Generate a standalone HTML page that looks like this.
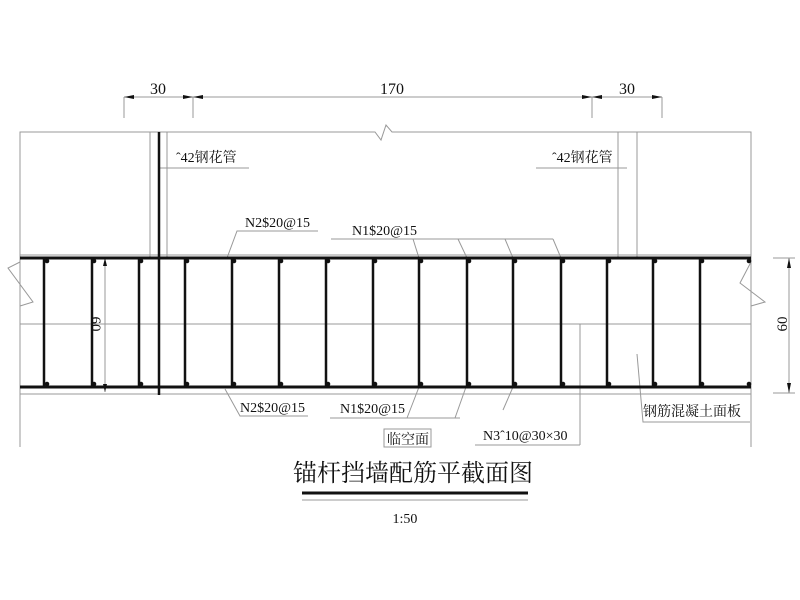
<!DOCTYPE html>
<html><head><meta charset="utf-8"><style>
html,body{margin:0;padding:0;background:#fff;}
svg{display:block;}
text{font-family:"Liberation Serif","Noto Serif CJK SC","Noto Sans CJK SC",serif;fill:#111;}
</style></head><body>
<svg width="800" height="600" viewBox="0 0 800 600" xmlns="http://www.w3.org/2000/svg">
<g stroke="#999" stroke-width="1" fill="none">
<!-- outer -->
<polyline points="20,447 20,132 375,132 381,140 386,125 392,132 751,132 751,447"/>
<line x1="20" y1="394" x2="751" y2="394"/>
<line x1="20" y1="324" x2="751" y2="324"/>
<line x1="20" y1="255" x2="751" y2="255"/>
<line x1="150" y1="132" x2="150" y2="258"/>
<line x1="167" y1="132" x2="167" y2="258"/>
<line x1="618" y1="132" x2="618" y2="258"/>
<line x1="637" y1="132" x2="637" y2="258"/>
<!-- zigzags -->
<polyline points="20,262 8,268 33,302 20,306"/>
<polyline points="751,262 740,283 765,302 751,306"/>
<!-- dims top -->
<line x1="124" y1="97" x2="662" y2="97"/>
<line x1="124" y1="97" x2="124" y2="118"/>
<line x1="193" y1="97" x2="193" y2="118"/>
<line x1="592" y1="97" x2="592" y2="118"/>
<line x1="662" y1="97" x2="662" y2="118"/>
<!-- dims left/right -->
<line x1="105" y1="258" x2="105" y2="392"/>
<line x1="789" y1="258" x2="789" y2="393"/>
<line x1="773" y1="258" x2="795" y2="258"/>
<line x1="773" y1="393" x2="795" y2="393"/>
<!-- leaders -->
<line x1="160" y1="168" x2="249" y2="168"/>
<line x1="536" y1="168" x2="627" y2="168"/>
<polyline points="227,258 237,231 318,231"/>
<line x1="331" y1="239" x2="553" y2="239"/>
<line x1="413" y1="239" x2="419" y2="258"/>
<line x1="458" y1="239" x2="467" y2="258"/>
<line x1="505" y1="239" x2="513" y2="258"/>
<line x1="553" y1="239" x2="561" y2="258"/>
<polyline points="225,389 240,416 308,416"/>
<line x1="330" y1="418" x2="460" y2="418"/>
<line x1="419" y1="387" x2="407" y2="418"/>
<line x1="466" y1="387" x2="455" y2="418"/>
<line x1="513" y1="387" x2="503" y2="410"/>
<line x1="475" y1="445" x2="580" y2="445"/>
<line x1="580" y1="324" x2="580" y2="445"/>
<polyline points="637,354 643,422 750,422"/>
</g>
<!-- arrows -->
<g fill="#111">
<polygon points="124,97 134,95 134,99"/><polygon points="193,97 183,95 183,99"/>
<polygon points="193,97 203,95 203,99"/><polygon points="592,97 582,95 582,99"/>
<polygon points="592,97 602,95 602,99"/><polygon points="662,97 652,95 652,99"/>
<polygon points="105,258 103,266 107,266"/><polygon points="105,392 103,384 107,384"/>
<polygon points="789,258 787,268 791,268"/><polygon points="789,393 787,383 791,383"/>
</g>
<!-- rebar -->
<g stroke="#111" fill="none">
<line x1="20" y1="258" x2="751" y2="258" stroke-width="3"/>
<line x1="20" y1="387" x2="751" y2="387" stroke-width="3"/>
<line x1="159" y1="132" x2="159" y2="395" stroke-width="2.5"/>
<g stroke-width="2.5">
<line x1="44" y1="258" x2="44" y2="387"/><line x1="92" y1="258" x2="92" y2="387"/>
<line x1="139" y1="258" x2="139" y2="387"/><line x1="185" y1="258" x2="185" y2="387"/>
<line x1="232" y1="258" x2="232" y2="387"/><line x1="279" y1="258" x2="279" y2="387"/>
<line x1="326" y1="258" x2="326" y2="387"/><line x1="373" y1="258" x2="373" y2="387"/>
<line x1="419" y1="258" x2="419" y2="387"/><line x1="467" y1="258" x2="467" y2="387"/>
<line x1="513" y1="258" x2="513" y2="387"/><line x1="561" y1="258" x2="561" y2="387"/>
<line x1="607" y1="258" x2="607" y2="387"/><line x1="653" y1="258" x2="653" y2="387"/>
<line x1="700" y1="258" x2="700" y2="387"/>
</g>
</g>
<g fill="#111">
<circle cx="47" cy="261" r="2.3"/><circle cx="47" cy="384" r="2.3"/>
<circle cx="94" cy="261" r="2.3"/><circle cx="94" cy="384" r="2.3"/>
<circle cx="141" cy="261" r="2.3"/><circle cx="141" cy="384" r="2.3"/>
<circle cx="187" cy="261" r="2.3"/><circle cx="187" cy="384" r="2.3"/>
<circle cx="234" cy="261" r="2.3"/><circle cx="234" cy="384" r="2.3"/>
<circle cx="281" cy="261" r="2.3"/><circle cx="281" cy="384" r="2.3"/>
<circle cx="328" cy="261" r="2.3"/><circle cx="328" cy="384" r="2.3"/>
<circle cx="375" cy="261" r="2.3"/><circle cx="375" cy="384" r="2.3"/>
<circle cx="421" cy="261" r="2.3"/><circle cx="421" cy="384" r="2.3"/>
<circle cx="469" cy="261" r="2.3"/><circle cx="469" cy="384" r="2.3"/>
<circle cx="515" cy="261" r="2.3"/><circle cx="515" cy="384" r="2.3"/>
<circle cx="563" cy="261" r="2.3"/><circle cx="563" cy="384" r="2.3"/>
<circle cx="609" cy="261" r="2.3"/><circle cx="609" cy="384" r="2.3"/>
<circle cx="655" cy="261" r="2.3"/><circle cx="655" cy="384" r="2.3"/>
<circle cx="702" cy="261" r="2.3"/><circle cx="702" cy="384" r="2.3"/>
<circle cx="749" cy="261" r="2.3"/><circle cx="749" cy="384" r="2.3"/>
</g>
<!-- text -->
<g font-size="16">
<text x="158" y="94" text-anchor="middle">30</text>
<text x="392" y="94" text-anchor="middle">170</text>
<text x="627" y="94" text-anchor="middle">30</text>
</g>
<g font-size="14">
<text x="176" y="162">ˆ42钢花管</text>
<text x="552" y="162">ˆ42钢花管</text>
<text x="245" y="227">N2$20@15</text>
<text x="352" y="235">N1$20@15</text>
<text x="240" y="412">N2$20@15</text>
<text x="340" y="413">N1$20@15</text>
<text x="483" y="440">N3ˆ10@30×30</text>
<text x="643" y="416">钢筋混凝土面板</text>
<text x="387" y="444">临空面</text>
<text transform="translate(91,324) rotate(90)" text-anchor="middle" font-size="15">60</text>
<text transform="translate(787,324) rotate(-90)" text-anchor="middle" font-size="15">60</text>
</g>
<rect x="384" y="429" width="47" height="18" fill="none" stroke="#999"/>
<text x="413" y="481" text-anchor="middle" font-size="24">锚杆挡墙配筋平截面图</text>
<line x1="302" y1="493" x2="528" y2="493" stroke="#111" stroke-width="3"/>
<line x1="302" y1="500" x2="528" y2="500" stroke="#999"/>
<text x="405" y="523" text-anchor="middle" font-size="14">1:50</text>
</svg>
</body></html>
